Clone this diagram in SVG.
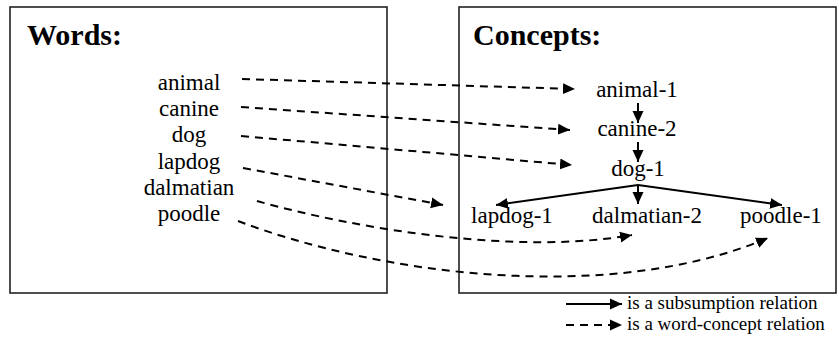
<svg xmlns="http://www.w3.org/2000/svg" width="839" height="343" viewBox="0 0 839 343">
<style>
.box{fill:none;stroke:#222;stroke-width:1.6}
.title{font-family:"Liberation Serif","Times New Roman",serif;font-weight:bold;font-size:30px;fill:#000}
.w{font-family:"Liberation Serif","Times New Roman",serif;font-size:23px;fill:#000;text-anchor:middle}
.leg{font-family:"Liberation Serif","Times New Roman",serif;font-size:19px;fill:#000}
.solid{fill:none;stroke:#000;stroke-width:2}
.dash{fill:none;stroke:#000;stroke-width:2;stroke-dasharray:8 6}
</style>
<defs>
<marker id="ah" markerUnits="userSpaceOnUse" markerWidth="14" markerHeight="12" refX="12" refY="6" orient="auto" viewBox="0 0 14 12">
<path d="M0,0.5 L12,6 L0,11.5 Z" fill="#000" stroke="none"/>
</marker>
</defs>
<g id="words-box">
<rect class="box" x="10" y="7" width="377" height="286"/>
<text class="title" x="27" y="45">Words:</text>
</g>
<g id="concepts-box">
<rect class="box" x="459" y="7" width="377" height="286"/>
<text class="title" x="473" y="45">Concepts:</text>
</g>
<g id="word-animal"><text class="w" x="189" y="90">animal</text></g>
<g id="word-canine"><text class="w" x="189" y="116">canine</text></g>
<g id="word-dog"><text class="w" x="189" y="142">dog</text></g>
<g id="word-lapdog"><text class="w" x="189" y="169">lapdog</text></g>
<g id="word-dalmatian"><text class="w" x="189" y="195">dalmatian</text></g>
<g id="word-poodle"><text class="w" x="189" y="221">poodle</text></g>
<g id="concept-animal-1"><text class="w" x="637" y="97">animal-1</text></g>
<g id="concept-canine-2"><text class="w" x="637" y="136">canine-2</text></g>
<g id="concept-dog-1"><text class="w" x="638" y="176">dog-1</text></g>
<g id="concept-lapdog-1"><text class="w" x="512" y="223">lapdog-1</text></g>
<g id="concept-dalmatian-2"><text class="w" x="647" y="223">dalmatian-2</text></g>
<g id="concept-poodle-1"><text class="w" x="781" y="223">poodle-1</text></g>
<g id="connectors">
<path class="dash" d="M242,79 L575,89" marker-end="url(#ah)"/>
<path class="dash" d="M241,107 L570,130" marker-end="url(#ah)"/>
<path class="dash" d="M241,136 L572,165" marker-end="url(#ah)"/>
<path class="dash" d="M243,168 L443,205" marker-end="url(#ah)"/>
<path class="dash" d="M257,201 C360,230 520,255 632,235" marker-end="url(#ah)"/>
<path class="dash" d="M238,221 C380,275 610,305 768,238" marker-end="url(#ah)"/>
<path class="solid" d="M638,103 L638,123" marker-end="url(#ah)"/>
<path class="solid" d="M638,142 L638,162" marker-end="url(#ah)"/>
<path class="solid" d="M638,185 L496,205" marker-end="url(#ah)"/>
<path class="solid" d="M638,185 L638,204" marker-end="url(#ah)"/>
<path class="solid" d="M638,185 L782,205" marker-end="url(#ah)"/>
</g>
<g id="legend">
<path class="solid" d="M566,304 L622,304" marker-end="url(#ah)"/>
<text class="leg" x="627" y="309">is a subsumption relation</text>
<path class="dash" d="M566,325 L622,325" marker-end="url(#ah)"/>
<text class="leg" x="627" y="330">is a word-concept relation</text>
</g>
</svg>
